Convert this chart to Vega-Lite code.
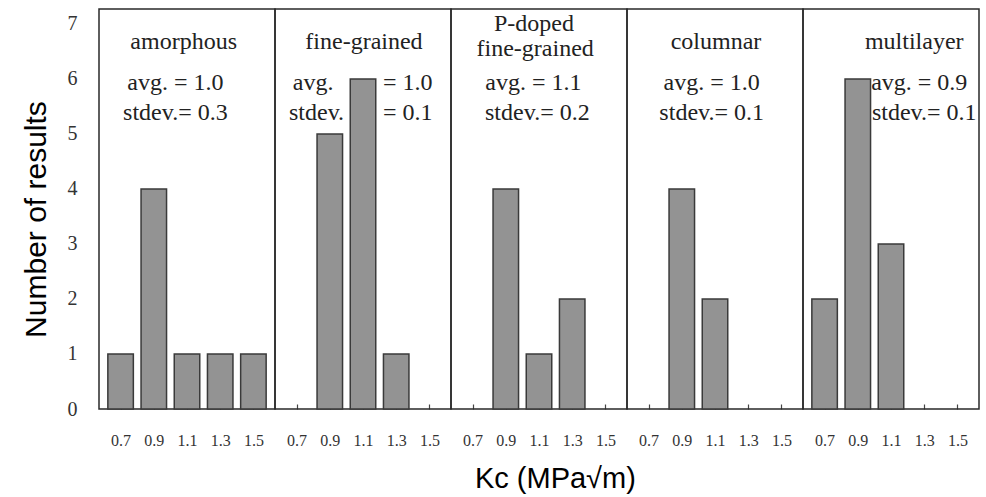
{
  "$schema": "https://vega.github.io/schema/vega-lite/v6.json",
  "background": "white",
  "padding": {"left": 21, "top": 8, "right": 0, "bottom": 5},
  "bounds": "flush",
  "data": {
    "values": [
      {"type": "bar", "panel": "amorphous", "k": 0.7, "n": 1},
      {"type": "bar", "panel": "amorphous", "k": 0.9, "n": 4},
      {"type": "bar", "panel": "amorphous", "k": 1.1, "n": 1},
      {"type": "bar", "panel": "amorphous", "k": 1.3, "n": 1},
      {"type": "bar", "panel": "amorphous", "k": 1.5, "n": 1},
      {"type": "bar", "panel": "fine-grained", "k": 0.9, "n": 5},
      {"type": "bar", "panel": "fine-grained", "k": 1.1, "n": 6},
      {"type": "bar", "panel": "fine-grained", "k": 1.3, "n": 1},
      {"type": "bar", "panel": "P-doped fine-grained", "k": 0.9, "n": 4},
      {"type": "bar", "panel": "P-doped fine-grained", "k": 1.1, "n": 1},
      {"type": "bar", "panel": "P-doped fine-grained", "k": 1.3, "n": 2},
      {"type": "bar", "panel": "columnar", "k": 0.9, "n": 4},
      {"type": "bar", "panel": "columnar", "k": 1.1, "n": 2},
      {"type": "bar", "panel": "multilayer", "k": 0.7, "n": 2},
      {"type": "bar", "panel": "multilayer", "k": 0.9, "n": 6},
      {"type": "bar", "panel": "multilayer", "k": 1.1, "n": 3},
      {"type": "label", "panel": "amorphous", "text": "amorphous", "k": 1.08, "n": 6.67},
      {"type": "label", "panel": "amorphous", "text": "avg. =  1.0", "k": 1.03, "n": 5.93},
      {"type": "label", "panel": "amorphous", "text": "stdev.= 0.3", "k": 1.03, "n": 5.38},
      {"type": "label", "panel": "fine-grained", "text": "fine-grained", "k": 1.106, "n": 6.67},
      {"type": "label", "panel": "fine-grained", "text": "avg.", "k": 0.8, "n": 5.93},
      {"type": "label", "panel": "fine-grained", "text": "=  1.0", "k": 1.37, "n": 5.93},
      {"type": "label", "panel": "fine-grained", "text": "stdev.", "k": 0.82, "n": 5.38},
      {"type": "label", "panel": "fine-grained", "text": "= 0.1", "k": 1.37, "n": 5.38},
      {"type": "label", "panel": "P-doped fine-grained", "text": "P-doped", "k": 1.07, "n": 7.0},
      {"type": "label", "panel": "P-doped fine-grained", "text": "fine-grained", "k": 1.077, "n": 6.55},
      {"type": "label", "panel": "P-doped fine-grained", "text": "avg. =  1.1", "k": 1.066, "n": 5.93},
      {"type": "label", "panel": "P-doped fine-grained", "text": "stdev.= 0.2", "k": 1.09, "n": 5.38},
      {"type": "label", "panel": "columnar", "text": "columnar", "k": 1.106, "n": 6.67},
      {"type": "label", "panel": "columnar", "text": "avg. =  1.0", "k": 1.08, "n": 5.93},
      {"type": "label", "panel": "columnar", "text": "stdev.= 0.1", "k": 1.08, "n": 5.38},
      {"type": "label", "panel": "multilayer", "text": "multilayer", "k": 1.24, "n": 6.67},
      {"type": "label", "panel": "multilayer", "text": "avg. =  0.9", "k": 1.27, "n": 5.93},
      {"type": "label", "panel": "multilayer", "text": "stdev.= 0.1", "k": 1.3, "n": 5.38},
      {"type": "div", "panel": "fine-grained"},
      {"type": "div", "panel": "P-doped fine-grained"},
      {"type": "div", "panel": "columnar"},
      {"type": "div", "panel": "multilayer"}
    ]
  },
  "facet": {
    "column": {
      "field": "panel",
      "type": "nominal",
      "sort": ["amorphous", "fine-grained", "P-doped fine-grained", "columnar", "multilayer"],
      "header": {"labels": false, "title": null}
    }
  },
  "spacing": 0,
  "spec": {
    "width": 176,
    "height": 400,
    "encoding": {
      "x": {
        "field": "k", "type": "quantitative",
        "scale": {"domain": [0.6, 1.6], "nice": false, "zero": false},
        "axis": {"title": null, "values": [0.7, 0.9, 1.1, 1.3, 1.5], "format": ".1f", "grid": false, "domain": false, "labelAngle": 0, "tickSize": -5, "tickColor": "#444", "tickWidth": 1.2, "labelPadding": 28, "labelFont": "Liberation Serif", "labelFontSize": 16, "labelColor": "#333", "labelFlush": false}
      },
      "y": {
        "field": "n", "type": "quantitative",
        "scale": {"domain": [0, 7.27], "nice": false},
        "axis": {"values": [0, 1, 2, 3, 4, 5, 6, 7], "ticks": false, "domain": false, "grid": false, "labelPadding": 22, "labelFont": "Liberation Serif", "labelFontSize": 20, "labelColor": "#333", "title": "Number of results", "titleFont": "Liberation Sans", "titleFontSize": 30, "titleFontWeight": "normal", "titleColor": "black", "titlePadding": 16, "titleY": 210}
      }
    },
    "layer": [
      {
        "transform": [{"filter": "datum.type === 'label'"}],
        "mark": {"type": "text", "font": "Liberation Serif", "fontSize": 24, "color": "#222", "align": "center", "baseline": "middle", "clip": true},
        "encoding": {"text": {"field": "text"}}
      },
      {
        "transform": [{"filter": "datum.type === 'bar'"}],
        "mark": {"type": "bar", "width": 25.5, "color": "#939393", "stroke": "#3a3a3a", "strokeWidth": 1.5}
      },
      {
        "transform": [{"filter": "datum.type === 'div'"}],
        "mark": {"type": "rule", "color": "#2a2a2a", "strokeWidth": 1.5},
        "encoding": {
          "x": {"datum": 0.6, "type": "quantitative"},
          "y": {"datum": 0, "type": "quantitative"},
          "y2": {"datum": -0.47}
        }
      }
    ]
  },
  "title": {"text": "Kc (MPa√m)", "orient": "bottom", "anchor": "middle", "font": "Liberation Sans", "fontSize": 29, "fontWeight": "normal", "color": "black", "offset": 17, "dx": 55},
  "config": {"view": {"stroke": "#2a2a2a", "strokeWidth": 1.5}}
}
